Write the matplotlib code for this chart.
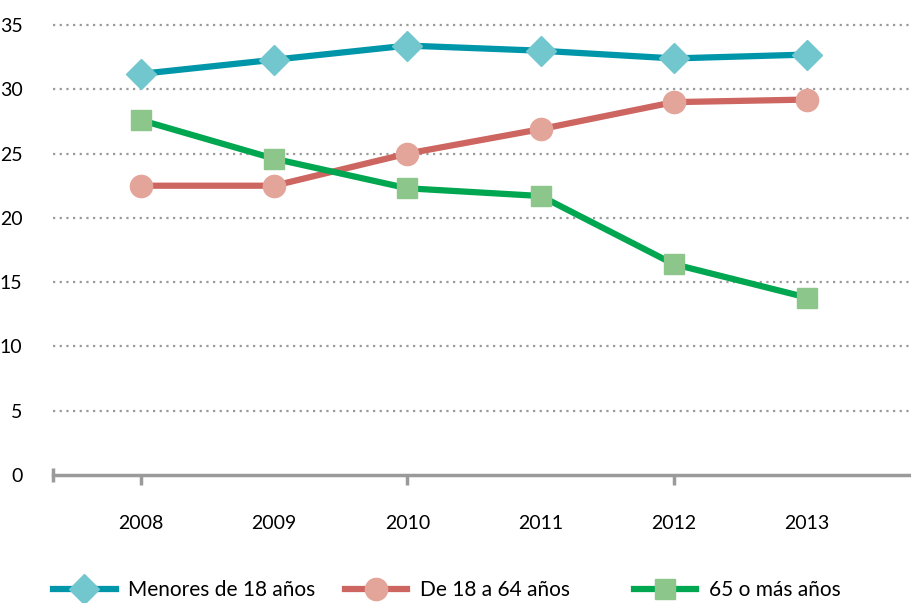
import numpy as np
import matplotlib
matplotlib.use("Agg")
import matplotlib.pyplot as plt

plt.rcParams['font.family'] = ['Lato', 'DejaVu Sans']

anios = [2008, 2009, 2010, 2011, 2012, 2013]
menores = [31.2, 32.3, 33.4, 33.0, 32.4, 32.7]
adultos = [22.5, 22.5, 25.0, 26.9, 29.0, 29.2]
mayores = [27.6, 24.6, 22.3, 21.7, 16.4, 13.8]
etiquetas = ["Menores de 18 años", "De 18 a 64 años", "65 o más años"]

fig = plt.figure(figsize=(9.12, 6.03), dpi=100)
ax = fig.add_axes([53/912, 1-475/603, 1-53/912, (475-25)/603])

gris = "#9a9a9a"
for v in [5, 10, 15, 20, 25, 30, 35]:
    ax.axhline(v, color=gris, lw=1.6, ls=(0, (1, 2)), zorder=1, clip_on=False)

estilos = [
    (menores, "#0096a9", "#72c7cf", "D", 15),
    (adultos, "#cd6560", "#e3a499", "o", 16),
    (mayores, "#00a650", "#8dc68b", "s", 14),
]
handles = []
for serie, lc, mc, mk, ms in estilos:
    h, = ax.plot(anios, serie, color=lc, lw=4.5, marker=mk, ms=ms,
                 markerfacecolor=mc, markeredgecolor=mc, clip_on=False, zorder=3)
    handles.append(h)

paso = 133.2
ax.set_ylim(0, 35)
ax.set_xlim(2008 - 88/paso, 2008 + (912-141)/paso)
ax.set_yticks([0, 5, 10, 15, 20, 25, 30, 35])
ax.set_xticks(anios)
for s in ["top", "right", "left"]:
    ax.spines[s].set_visible(False)
ax.spines["bottom"].set_color(gris)
ax.spines["bottom"].set_linewidth(2.5)
ax.tick_params(axis="y", length=0, pad=22, labelsize=14)
ax.tick_params(axis="x", length=7, width=2.5, color=gris, pad=22, labelsize=14)
for i, t in enumerate(ax.xaxis.get_major_ticks()):
    if i % 2:
        t.tick1line.set_visible(False)
ax.plot([ax.get_xlim()[0]], [0], marker="|", ms=10, mew=2.5, color=gris, clip_on=False)

xs = [53, 345, 634]
for h, lab, x in zip(handles, etiquetas, xs):
    fig.legend([h], [lab], loc="center left", bbox_to_anchor=(x/912, 1-590/603),
               frameon=False, fontsize=15, handlelength=3.0, handletextpad=0.6,
               borderpad=0, borderaxespad=0)

fig.savefig("out.png", dpi=100)
